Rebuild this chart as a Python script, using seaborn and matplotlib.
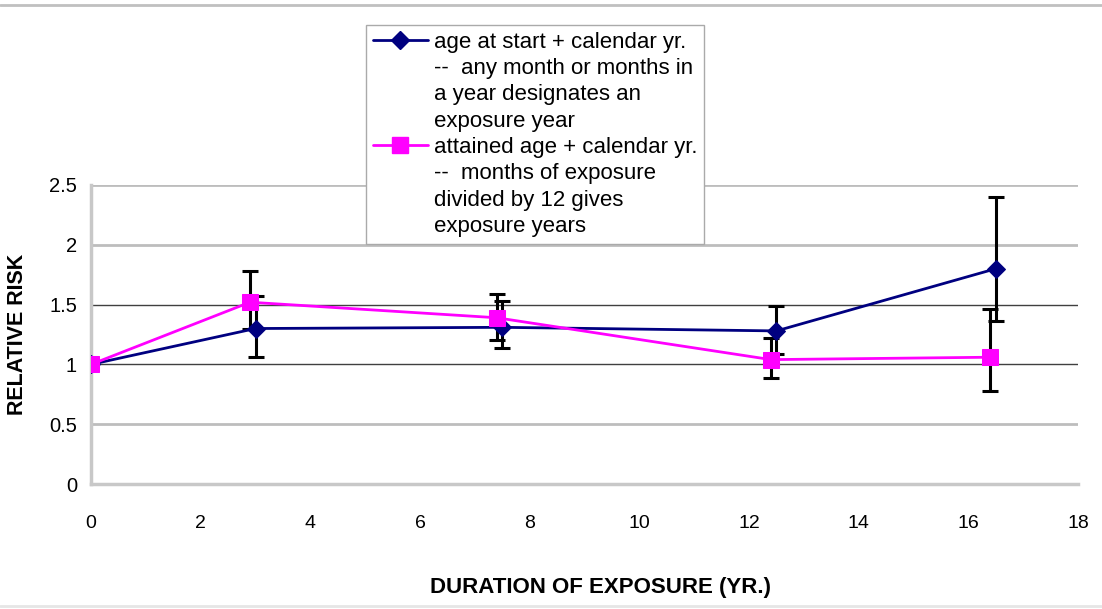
import matplotlib
matplotlib.use("Agg")
import matplotlib.pyplot as plt
from matplotlib.lines import Line2D
import seaborn as sns
import pandas as pd
import numpy as np

# ---- data ----
blue_x = [0, 3.0, 7.5, 12.5, 16.5]
blue_y = [1.0, 1.30, 1.31, 1.28, 1.80]
blue_lo = [1.0, 1.06, 1.14, 1.09, 1.36]
blue_hi = [1.0, 1.57, 1.53, 1.49, 2.40]

pink_x = [0, 2.9, 7.4, 12.4, 16.4]
pink_y = [1.0, 1.52, 1.39, 1.04, 1.06]
pink_lo = [1.0, 1.30, 1.20, 0.885, 0.78]
pink_hi = [1.0, 1.78, 1.59, 1.22, 1.46]

blue_label = ["age at start + calendar yr.", "--  any month or months in",
              "a year designates an", "exposure year"]
pink_label = ["attained age + calendar yr.", "--  months of exposure",
              "divided by 12 gives", "exposure years"]

x_ticks = [0, 2, 4, 6, 8, 10, 12, 14, 16, 18]
y_ticks = [0, 0.5, 1, 1.5, 2, 2.5]
y_tick_labels = ["0", "0.5", "1", "1.5", "2", "2.5"]

x_title = "DURATION OF EXPOSURE (YR.)"
y_title = "RELATIVE RISK"

BLUE = "#000080"
PINK = "#ff00ff"

sns.set_theme(style="white")
plt.rcParams["font.family"] = ["Liberation Sans", "DejaVu Sans"]
plt.rcParams["text.color"] = "black"
plt.rcParams["axes.labelcolor"] = "black"

fig = plt.figure(figsize=(11.02, 6.09), dpi=100)
ax = fig.add_axes([91 / 1102, 1 - 484 / 609, (1078 - 91) / 1102, (484 - 185) / 609])

df_b = pd.DataFrame({"x": blue_x, "y": blue_y})
df_p = pd.DataFrame({"x": pink_x, "y": pink_y})

# error bars
for xs, ys, lo, hi in [(pink_x, pink_y, pink_lo, pink_hi), (blue_x, blue_y, blue_lo, blue_hi)]:
    ys = np.array(ys); lo = np.array(lo); hi = np.array(hi)
    ax.errorbar(xs[1:], ys[1:], yerr=[ys[1:] - lo[1:], hi[1:] - ys[1:]],
                fmt="none", ecolor="black", elinewidth=2.2, capsize=6, capthick=2.2, zorder=3)

sns.lineplot(data=df_b, x="x", y="y", ax=ax, color=BLUE, lw=2.0, marker="D",
             markersize=9, markeredgecolor=BLUE, zorder=4)
sns.lineplot(data=df_p, x="x", y="y", ax=ax, color=PINK, lw=2.0, marker="s",
             markersize=11, markeredgecolor=PINK, zorder=5)

ax.set_xlim(0, 18)
ax.set_ylim(0, 2.5)
ax.set_xticks(x_ticks)
ax.set_xticklabels([str(t) for t in x_ticks])
ax.set_yticks(y_ticks)
ax.set_yticklabels(y_tick_labels)
ax.tick_params(axis="x", length=0, pad=22, labelsize=14, colors="black")
ax.tick_params(axis="y", length=0, pad=10, labelsize=14.5, colors="black")

ax.set_xlabel(x_title, fontsize=16, fontweight="bold", color="black")
ax.set_ylabel(y_title, fontsize=15.5, fontweight="bold", color="black")
ax.xaxis.set_label_coords((601 - 91) / (1078 - 91), (484 - 587) / (484 - 185), transform=ax.transAxes)
ax.yaxis.set_label_coords(-(91 - 18) / (1078 - 91), 0.5, transform=ax.transAxes)
ax.xaxis.label.set_verticalalignment("center")
ax.yaxis.label.set_verticalalignment("center")

# gridlines
ax.yaxis.grid(True, color="#bdbdbd", lw=2.0)
ax.set_axisbelow(True)
for t, gl in zip(y_ticks, ax.yaxis.get_gridlines()):
    if t in (1, 1.5):
        gl.set_color("#404040")
        gl.set_linewidth(1.0)

for s in ["top", "right"]:
    ax.spines[s].set_visible(False)
ax.spines["left"].set_color("#c8c8c8")
ax.spines["left"].set_linewidth(2.5)
ax.spines["bottom"].set_color("#c8c8c8")
ax.spines["bottom"].set_linewidth(2.5)

# legend
blank = Line2D([], [], linestyle="none", marker=None)
hb = Line2D([], [], color=BLUE, lw=2.0, marker="D", markersize=9)
hp = Line2D([], [], color=PINK, lw=2.0, marker="s", markersize=11)
handles = [hb, blank, blank, blank, hp, blank, blank, blank]
labels = blue_label + pink_label
leg = fig.legend(handles, labels, loc="upper left",
                 bbox_to_anchor=(366 / 1102, 1 - 25 / 609),
                 bbox_transform=fig.transFigure,
                 fontsize=16, handlelength=2.5, handletextpad=0.25,
                 labelspacing=0.24, borderpad=0.3, borderaxespad=0,
                 frameon=True, fancybox=False, edgecolor="#aaaaaa",
                 facecolor="white", framealpha=1.0)
leg.get_frame().set_linewidth(1.0)
for txt in leg.get_texts():
    txt.set_color("black")

# chart border lines
fig.add_artist(Line2D([0, 1], [1 - 5 / 609, 1 - 5 / 609], transform=fig.transFigure,
                      color="#c0c0c0", lw=2))
fig.add_artist(Line2D([0, 1], [1 - 606 / 609, 1 - 606 / 609], transform=fig.transFigure,
                      color="#e6e6e6", lw=2))

fig.savefig("out.png", dpi=100)
